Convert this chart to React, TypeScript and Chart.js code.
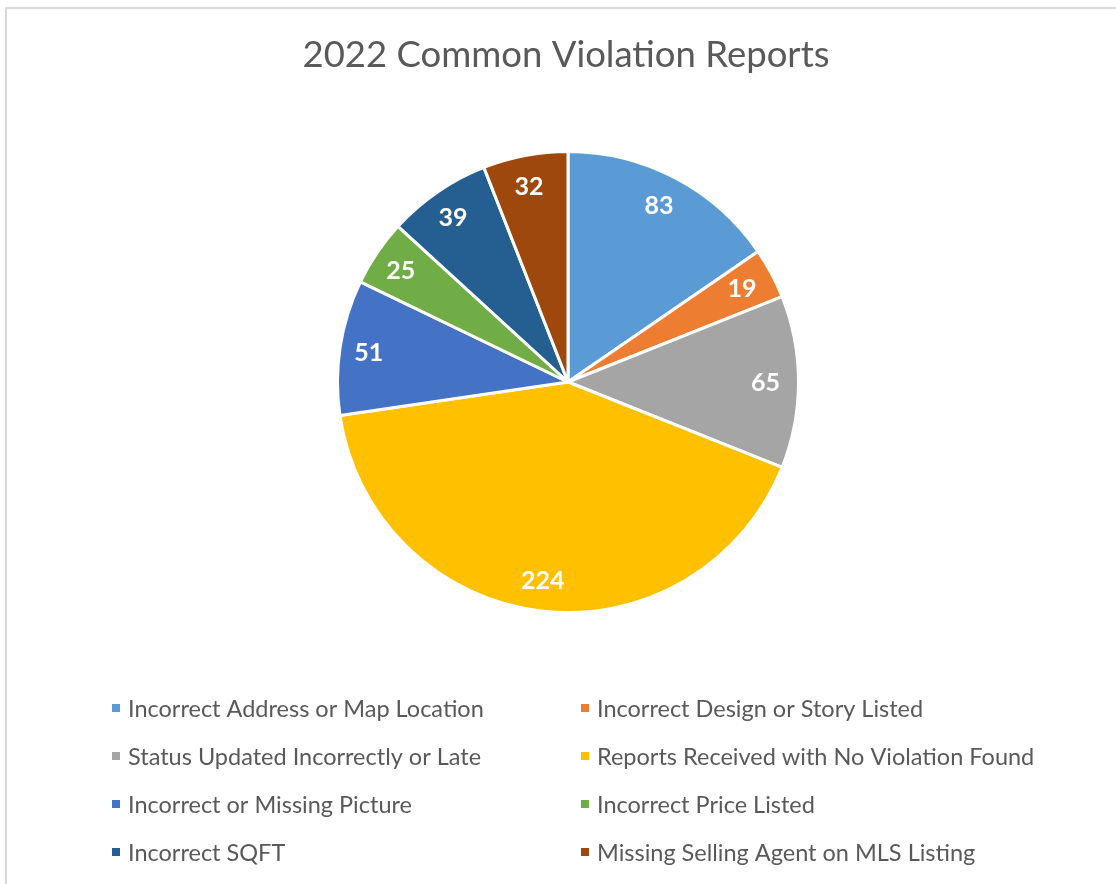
import React, { useEffect, useRef } from "react";
import { Chart, registerables } from "chart.js";

Chart.register(...registerables);

const TITLE = "2022 Common Violation Reports";
const categories = [
  "Incorrect Address or Map Location",
  "Incorrect Design or Story Listed",
  "Status Updated Incorrectly or Late",
  "Reports Received with No Violation Found",
  "Incorrect or Missing Picture",
  "Incorrect Price Listed",
  "Incorrect SQFT",
  "Missing Selling Agent on MLS Listing",
];
const values = [83, 19, 65, 224, 51, 25, 39, 32];
const colors = ["#5B9BD5", "#ED7D31", "#A5A5A5", "#FFC000", "#4472C4", "#70AD47", "#255E91", "#9E480E"];

const FONT = "Lato, 'Open Sans', sans-serif";
const TEXT_COLOR = "#595959";

const framePlugin = {
  id: "frame",
  beforeDraw(chart: any) {
    const ctx = chart.ctx;
    ctx.save();
    ctx.fillStyle = "#ffffff";
    ctx.fillRect(0, 0, chart.width, chart.height);
    ctx.strokeStyle = "#d9d9d9";
    ctx.lineWidth = 2;
    ctx.strokeRect(6, 8, chart.width + 20, chart.height + 20);
    ctx.fillStyle = TEXT_COLOR;
    ctx.font = `36.5px ${FONT}`;
    ctx.textAlign = "center";
    ctx.textBaseline = "middle";
    ctx.fillText(TITLE, 566, 55);
    ctx.restore();
  },
};

const labelPlugin = {
  id: "sliceLabels",
  afterDatasetsDraw(chart: any) {
    const ctx = chart.ctx;
    const meta = chart.getDatasetMeta(0);
    const data = chart.data.datasets[0].data;
    ctx.save();
    ctx.fillStyle = "#ffffff";
    ctx.font = `bold 25px ${FONT}`;
    ctx.textAlign = "center";
    ctx.textBaseline = "middle";
    meta.data.forEach((arc: any, i: number) => {
      const p = arc.getProps(["x", "y", "startAngle", "endAngle", "outerRadius"], true);
      const mid = (p.startAngle + p.endAngle) / 2;
      const r = p.outerRadius * 0.866;
      ctx.fillText(String(data[i]), p.x + Math.cos(mid) * r - 2, p.y + Math.sin(mid) * r + 1);
    });
    ctx.restore();
  },
};

const legendPlugin = {
  id: "gridLegend",
  afterDraw(chart: any) {
    const ctx = chart.ctx;
    const labels = chart.data.labels;
    const bg = chart.data.datasets[0].backgroundColor;
    const colX = [112, 581];
    const rowY = [708, 756, 804, 852];
    ctx.save();
    ctx.font = `23.5px ${FONT}`;
    ctx.textAlign = "left";
    ctx.textBaseline = "middle";
    labels.forEach((lab: string, i: number) => {
      const x = colX[i % 2];
      const y = rowY[Math.floor(i / 2)];
      ctx.fillStyle = bg[i];
      ctx.fillRect(x, y - 4, 8, 8);
      ctx.fillStyle = TEXT_COLOR;
      ctx.fillText(lab, x + 16, y + 1);
    });
    ctx.restore();
  },
};

export default function App() {
  const ref = useRef<HTMLCanvasElement>(null);
  useEffect(() => {
    if (!ref.current) return;
    const chart = new Chart(ref.current, {
      type: "pie",
      data: {
        labels: categories,
        datasets: [
          {
            data: values,
            backgroundColor: colors,
            borderColor: "#ffffff",
            borderWidth: 3,
          },
        ],
      },
      options: {
        responsive: false,
        animation: false,
        layout: { padding: { left: 336, right: 316, top: 150, bottom: 270 } },
        plugins: {
          legend: { display: false },
          title: { display: false },
          tooltip: { enabled: false },
        },
      },
      plugins: [framePlugin, labelPlugin, legendPlugin],
    });
    return () => chart.destroy();
  }, []);
  return (
    <div style={{ position: "absolute", left: 0, top: 0, width: 1116, height: 884, background: "#fff" }}>
      <canvas ref={ref} width={1116} height={884} />
    </div>
  );
}
